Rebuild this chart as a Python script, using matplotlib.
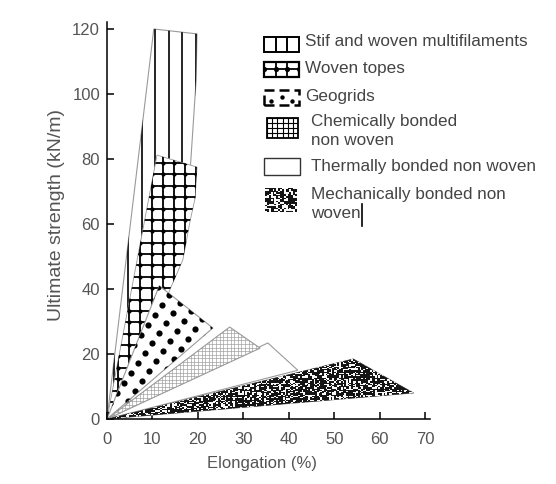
import numpy as np
import matplotlib
matplotlib.use("Agg")
import matplotlib.pyplot as plt
from matplotlib.patches import Polygon, Rectangle

plt.rcParams['font.family'] = ['Liberation Sans', 'DejaVu Sans']

# envelopes: elongation (%) vs ultimate strength (kN/m)
stiff_x = [0, 10.3, 19.8, 19.6, 18.0, 4.0]
stiff_y = [0, 120, 118.5, 104, 70, 0]
woven_x = [0, 11.0, 19.8, 19.4, 18.3, 16.7, 13.9, 3.0]
woven_y = [0, 81.2, 77.5, 68, 61, 49, 40, 0]
geogrid_x = [0, 11.5, 23.3]
geogrid_y = [0, 41.0, 28.0]
chem_x = [0, 27.0, 33.7]
chem_y = [0, 28.3, 21.8]
thermal_x = [0, 35.4, 42.0]
thermal_y = [0, 23.4, 15.0]
mech_x = [0, 54.2, 67.5]
mech_y = [0, 18.5, 8.0]

labels = ["Stif and woven multifilaments", "Woven topes", "Geogrids",
          "Chemically bonded\nnon woven", "Thermally bonded non woven",
          "Mechanically bonded non\nwoven"]

x_ticks = [0, 10, 20, 30, 40, 50, 60, 70]
y_ticks = [0, 20, 40, 60, 80, 100, 120]

W, H = 556, 484
fig = plt.figure(figsize=(W / 100, H / 100), dpi=100)
# axes placed so that 0 sits at px (107, 419), 70 % at px 425, 120 kN/m at px 29
ax = fig.add_axes([107 / W, 65 / H, 322.6 / W, 396.5 / H])
ax.set_xlim(0, 71)
ax.set_ylim(0, 122)

PX = 322.6 / 71      # pixels per % elongation
PY = 396.5 / 122     # pixels per kN/m


def px2data(px, py):
    return (px - 107) / PX, (419 - py) / PY


def shape(xs, ys, z, edge='#9a9a9a', lw=0.8):
    p = Polygon(np.column_stack([xs, ys]), closed=True, facecolor='white',
                edgecolor=edge, linewidth=lw, zorder=z)
    ax.add_patch(p)
    return p


def clip(artist, patch):
    artist.set_clip_path(patch)
    return artist


def vert_lines(patch, xs, y0, y1, z, lw=1.2, color='black'):
    clip(ax.vlines(xs, y0, y1, colors=color, linewidth=lw, zorder=z), patch)


def grid_lines(patch, xs, ys, x0, x1, y0, y1, z, lw=1.2, color='black', dots=0):
    clip(ax.vlines(xs, y0, y1, colors=color, linewidth=lw, zorder=z), patch)
    clip(ax.hlines(ys, x0, x1, colors=color, linewidth=lw, zorder=z), patch)
    if dots:
        gx, gy = np.meshgrid(xs, ys)
        clip(ax.scatter(gx.ravel(), gy.ravel(), s=dots, color=color, zorder=z,
                        linewidths=0), patch)


def dot_lattice(patch, ox, oy, z, s=20):
    # lattice vectors in pixels, turned into data units
    a = np.array([11 / PX, -8 / PY])
    b = np.array([-7 / PX, -10 / PY])
    i, j = np.meshgrid(np.arange(-40, 41), np.arange(-40, 41))
    pts = np.array([ox, oy]) + i.ravel()[:, None] * a + j.ravel()[:, None] * b
    clip(ax.scatter(pts[:, 0], pts[:, 1], s=s, color='black', zorder=z,
                    linewidths=0), patch)


def speckle(patch, x0, x1, y0, y1, z, cw=1.7, ch=1.2, cut=0.68):
    nx = int((x1 - x0) * PX / cw)
    ny = int((y1 - y0) * PY / ch)
    jj, ii = np.meshgrid(np.arange(nx), np.arange(ny))
    v = np.sin(ii * 12.9898 + jj * 78.233) * 43758.5453
    v = v - np.floor(v)
    img = np.where(v > cut, 0.97, 0.08)
    im = ax.imshow(img, extent=(x0, x1, y0, y1), cmap='gray', vmin=0, vmax=1,
                   interpolation='nearest', aspect='auto', zorder=z)
    clip(im, patch)


# stiff and woven multifilaments
p = shape(stiff_x, stiff_y, 1)
vert_lines(p, np.arange(1.6, 21, 3.0), 0, 121, 1.1)

# woven tapes
p = shape(woven_x, woven_y, 2, lw=0.6)
grid_lines(p, np.arange(0.0, 21, 2.45), np.arange(1.75, 84, 3.5), 0, 21, 0, 84, 2.1,
           lw=1.3, dots=9)

# thermally bonded
p = shape(thermal_x, thermal_y, 3)

# chemically bonded
p = shape(chem_x, chem_y, 4)
grid_lines(p, np.arange(0, 35, 0.8), np.arange(0, 30, 1.1), 0, 35, 0, 30, 4.1,
           lw=0.45, color='#999999')

# geogrids
p = shape(geogrid_x, geogrid_y, 5)
dot_lattice(p, 16.1, 35.7, 5.1)

# mechanically bonded
p = shape(mech_x, mech_y, 6, edge='#555555', lw=0.5)
speckle(p, 0, 68, 0, 19, 6.1)

# ---- legend drawn by hand ----
def box(px0, py0, px1, py1, edge='black', lw=1.4, z=10):
    x0, y1 = px2data(px0, py0)
    x1, y0 = px2data(px1, py1)
    r = Rectangle((x0, y0), x1 - x0, y1 - y0, facecolor='white', edgecolor=edge,
                  linewidth=lw, zorder=z)
    ax.add_patch(r)
    return r, x0, x1, y0, y1


r, x0, x1, y0, y1 = box(264, 37, 299, 52)
vert_lines(r, [x0 + (x1 - x0) / 3, x0 + 2 * (x1 - x0) / 3], y0, y1, 10.1, lw=1.4)

r, x0, x1, y0, y1 = box(264, 62, 299, 77, lw=1.6)
grid_lines(r, np.linspace(x0, x1, 4), [y0 + (y1 - y0) * 0.5], x0, x1, y0, y1, 10.1,
           lw=1.3, dots=14)

r, x0, x1, y0, y1 = box(264, 90, 299, 105, lw=1.8)
r.set_linestyle((0, (4, 2)))
ax.scatter([x0 + (x1 - x0) * 0.5, x0 + (x1 - x0) * 0.2, x0 + (x1 - x0) * 0.8],
           [y0 + (y1 - y0) * 0.5, y0 + (y1 - y0) * 0.25, y0 + (y1 - y0) * 0.25],
           s=10, color='black', zorder=10.2, linewidths=0)

r, x0, x1, y0, y1 = box(267, 118, 298, 138, lw=1.3)
grid_lines(r, np.linspace(x0, x1, 7), np.linspace(y0, y1, 5), x0, x1, y0, y1, 10.1,
           lw=0.8)

r, x0, x1, y0, y1 = box(264, 158, 300, 175, edge='#333333', lw=1.0)

r, x0, x1, y0, y1 = box(265, 188, 297, 212, edge='none', lw=0)
speckle(r, x0, x1, y0, y1, 10.1, cw=1.8, ch=1.4, cut=0.6)

text_pos = [(305, 42), (305, 69), (305, 97), (311, 131), (311, 166), (311, 204)]
for lab, (tx, ty) in zip(labels, text_pos):
    dx, dy = px2data(tx, ty)
    ax.text(dx, dy, lab, fontsize=12.3, color='#444444', va='center', ha='left',
            linespacing=1.3, zorder=11)

# text cursor after "woven"
cx, cy0 = px2data(362, 204)
_, cy1 = px2data(362, 226)
ax.plot([cx, cx], [cy0, cy1], color='black', lw=1.2, zorder=11)

# ---- axes styling ----
for s in ['top', 'right']:
    ax.spines[s].set_visible(False)
for s in ['left', 'bottom']:
    ax.spines[s].set_linewidth(1.1)
    ax.spines[s].set_zorder(12)
ax.set_xticks(x_ticks)
ax.set_yticks(y_ticks)
ax.tick_params(direction='in', length=5, width=1.1, labelsize=12,
               labelcolor='#555555')
ax.tick_params(axis='y', pad=5)
ax.tick_params(axis='x', pad=9)
ax.set_xlabel('Elongation (%)', fontsize=12, color='#555555')
ax.xaxis.set_label_coords((262 - 107) / 322.6, -(456 - 419) / 396.5)
ax.set_ylabel('Ultimate strength (kN/m)', fontsize=14, color='#555555')
ax.yaxis.set_label_coords(-(107 - 65) / 322.6, (419 - 215) / 396.5)

fig.savefig('out.png', dpi=100)
